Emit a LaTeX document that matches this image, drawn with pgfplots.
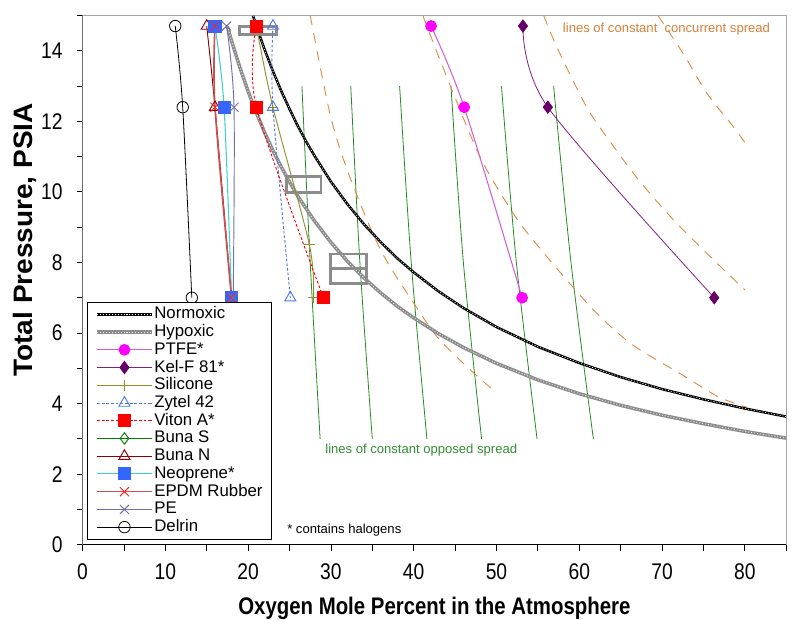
\documentclass[border=0pt]{standalone}
\usepackage{pgfplots}
\pgfplotsset{compat=1.18}
\usepackage{fontspec}
\setmainfont{Liberation Sans}
\newfontfamily\condensed{Liberation Sans}[FakeStretch=0.85]
\newfontfamily\widefont{Liberation Sans}[FakeStretch=1.05]
\definecolor{ptfeline}{RGB}{212,95,212}
\definecolor{ptfemark}{RGB}{255,0,255}
\definecolor{kelline}{RGB}{128,32,128}
\definecolor{kelmark}{RGB}{102,0,102}
\definecolor{silicone}{RGB}{143,143,47}
\definecolor{zytel}{RGB}{74,122,232}
\definecolor{bunas}{RGB}{0,128,0}
\definecolor{bunan}{RGB}{139,0,0}
\definecolor{neoline}{RGB}{64,208,208}
\definecolor{neomark}{RGB}{51,102,255}
\definecolor{epdmline}{RGB}{205,80,80}
\definecolor{epdmmark}{RGB}{240,40,40}
\definecolor{peline}{RGB}{112,112,168}
\definecolor{hypo}{RGB}{140,140,140}
\definecolor{opposed}{RGB}{34,139,34}
\definecolor{concur}{RGB}{224,140,70}
\definecolor{concurtext}{RGB}{214,128,58}
\definecolor{opposedtext}{RGB}{51,140,51}
\begin{document}
\begin{tikzpicture}
\useasboundingbox (-61.9pt,-56.25pt) rectangle (533.7pt,408.6pt);
\begin{axis}[
  at={(0pt,0pt)}, anchor=south west,
  scale only axis, width=527.9pt, height=397pt,
  xmin=0, xmax=85, ymin=0, ymax=15,
  xtick={0,10,...,80}, minor xtick={5,15,...,85},
  ytick={0,2,...,14}, minor ytick={1,3,...,15},
  tick align=outside, tick pos=left,
  major tick length=4.5pt, minor tick length=4.5pt,
  every tick/.style={black, line width=0.6pt},
  axis line style={draw=gray!70, line width=0.8pt},
  /pgf/number format/assume math mode=true,
  ticklabel style={font=\condensed\fontsize{17}{17}\selectfont},
  xticklabel style={anchor=north, yshift=-6pt},
  yticklabel style={anchor=east, xshift=-7pt},
  xlabel={Oxygen Mole Percent in the Atmosphere},
  ylabel={Total Pressure, PSIA},
  xlabel style={font=\condensed\bfseries\fontsize{18}{18}\selectfont, at={(axis description cs:0.5,-0.12)}, anchor=center},
  ylabel style={font=\widefont\bfseries\fontsize{20}{20}\selectfont, at={(axis description cs:-0.0817,0.576)}, anchor=center},
  legend cell align=left,
  legend style={at={(rel axis cs:0.0064,0.0094)}, anchor=south west, draw=black, line width=0.6pt,
    font=\fontsize{12.6}{13}\selectfont, row sep=0pt, inner xsep=6pt, inner ysep=2.5pt,
    nodes={inner sep=0.6pt, text height=9.4pt, text depth=2.7pt}},
  legend image code/.code={\draw[mark repeat=2, mark phase=2] plot coordinates {(0cm,0cm) (0.72cm,0cm) (1.44cm,0cm)};},
]
% lines of constant opposed spread
\addplot[forget plot, opposed, line width=0.6pt, smooth] coordinates {(26.5,13) (27.5,8) (28.7,3)};
\addplot[forget plot, opposed, line width=0.6pt, smooth] coordinates {(32.4,13) (33.5,8) (35.0,3)};
\addplot[forget plot, opposed, line width=0.6pt, smooth] coordinates {(38.3,13) (39.7,8) (41.6,3)};
\addplot[forget plot, opposed, line width=0.6pt, smooth] coordinates {(44.5,13) (46.0,8) (48.2,3)};
\addplot[forget plot, opposed, line width=0.6pt, smooth] coordinates {(50.6,13) (52.4,8) (54.9,3)};
\addplot[forget plot, opposed, line width=0.6pt, smooth] coordinates {(56.9,13) (59.0,8) (61.7,3)};
% lines of constant concurrent spread
\addplot[forget plot, concur, line width=0.7pt, dash pattern=on 7.5pt off 6pt, smooth] coordinates {(27.5,15.0) (29.9,12.2) (32.0,10.6) (35.1,8.8) (37.1,7.9) (40.0,6.85) (42.8,5.9) (46.4,5.05) (50.0,4.3)};
\addplot[forget plot, concur, line width=0.7pt, dash pattern=on 7.5pt off 6pt, smooth] coordinates {(41.1,15.0) (43.5,13.55) (48.0,11.0) (52.0,9.4) (54.4,8.64) (58.5,7.5) (62.1,6.56) (66.4,5.67) (72.6,4.79) (76.8,4.19) (80.2,3.9)};
\addplot[forget plot, concur, line width=0.7pt, dash pattern=on 7.5pt off 6pt, smooth] coordinates {(55.7,15.0) (57.3,14.1) (60.9,12.4) (64.1,11.3) (67.3,10.3) (71.4,9.2) (75.4,8.26) (80.0,7.22)};
\addplot[forget plot, concur, line width=0.7pt, dash pattern=on 7.5pt off 6pt, smooth] coordinates {(69.5,15.0) (72.6,13.9) (75.4,12.8) (78.6,11.85) (80.0,11.4)};
% Normoxic
\addplot[black, line width=1.9pt, no marks, postaction={draw=white, line width=0.5pt, dash pattern=on 0.8pt off 1.4pt}] coordinates {
(20.6,14.99) (21,14.70) (22,14.03) (23,13.42) (24,12.86) (25,12.35) (26,11.87) (27,11.43) (28,11.03) (30,10.29) (32,9.65) (34,9.08) (36,8.58) (38,8.12) (40,7.72) (43,7.18) (46,6.71) (50,6.17) (55,5.61) (60,5.15) (65,4.75) (70,4.41) (75,4.12) (80,3.86) (85,3.63)};
\addlegendentry{Normoxic}
% Hypoxic
\addplot[hypo, line width=2.6pt, no marks, postaction={draw=white!80!hypo, line width=0.6pt, dash pattern=on 0.8pt off 1.4pt}] coordinates {
(17.5,14.69) (18,14.28) (19,13.53) (20,12.85) (21,12.24) (22,11.68) (23,11.17) (24,10.71) (25,10.28) (26,9.88) (28,9.18) (30,8.57) (32,8.03) (34,7.56) (36,7.14) (38,6.76) (40,6.43) (43,5.98) (46,5.59) (50,5.14) (55,4.67) (60,4.28) (65,3.95) (70,3.67) (75,3.43) (80,3.21) (85,3.02)};
\addlegendentry{Hypoxic}
% boxes
\addplot[forget plot, hypo, line width=2.2pt] coordinates {(19.0,14.47) (23.4,14.47) (23.4,14.68) (19.0,14.68)} -- cycle;
\addplot[forget plot, hypo, line width=2.2pt] coordinates {(24.6,9.98) (28.8,9.98) (28.8,10.43) (24.6,10.43)} -- cycle;
\addplot[forget plot, hypo, line width=2.2pt] coordinates {(30.0,7.41) (34.3,7.41) (34.3,8.24) (30.0,8.24)} -- cycle;
\addplot[forget plot, hypo, line width=2.2pt] coordinates {(30.0,7.84) (34.3,7.84)};
% PTFE
\addplot[ptfeline, line width=0.8pt, smooth, mark=*, mark size=4pt, mark options={draw=ptfemark, fill=ptfemark}] coordinates {(42.1,14.7) (46.1,12.4) (53.1,7.0)};
\addlegendentry{PTFE*}
% Kel-F
\addplot[kelline, line width=0.6pt, smooth, mark=diamond*, mark size=4.6pt, mark options={draw=kelmark, fill=kelmark}] coordinates {(53.2,14.7) (56.2,12.4) (76.3,7.0)};
\addlegendentry{Kel-F 81*}
% Silicone
\addplot[silicone, line width=0.7pt, smooth, mark=+, mark size=4pt] coordinates {(21.0,14.7) (23.0,12.4) (27.4,8.5) (27.9,7.0)};
\addlegendentry{Silicone}
% Zytel 42
\addplot[zytel, line width=0.7pt, dash pattern=on 2pt off 1.5pt, smooth, mark=triangle, mark size=4.8pt, mark options={solid, fill=white}] coordinates {(23.0,14.7) (23.0,12.4) (25.1,7.0)};
\addlegendentry{Zytel 42}
% Viton A
\addplot[red, line width=0.7pt, dash pattern=on 2pt off 1.5pt, smooth, mark=square*, mark size=4.5pt, mark options={solid, fill=red}] coordinates {(21.0,14.7) (21.0,12.4) (29.1,7.0)};
\addlegendentry{Viton A*}
% Buna S (not visible in plot)
\addlegendimage{bunas, line width=0.7pt, mark=diamond, mark size=4.3pt, mark options={fill=white}}
\addlegendentry{Buna S}
% Buna N
\addplot[bunan, line width=0.7pt, smooth, mark=triangle, mark size=4.8pt] coordinates {(15.0,14.7) (16.0,12.4) (18.0,7.0)};
\addlegendentry{Buna N}
% Neoprene
\addplot[neoline, line width=0.8pt, smooth, mark=square*, mark size=4.5pt, mark options={draw=neomark, fill=neomark}] coordinates {(16.0,14.7) (17.1,12.4) (18.0,7.0)};
\addlegendentry{Neoprene*}
% EPDM
\addplot[epdmline, line width=1.2pt, smooth, mark=x, mark size=4.8pt, mark options={draw=epdmmark, line width=0.7pt}] coordinates {(16.0,14.7) (16.0,12.4) (18.0,7.0)};
\addlegendentry{EPDM Rubber}
% PE
\addplot[peline, line width=0.7pt, smooth, mark=x, mark size=4.8pt] coordinates {(17.4,14.7) (18.3,12.4) (18.2,7.0)};
\addlegendentry{PE}
% Delrin
\addplot[black, line width=0.6pt, smooth, mark=o, mark size=4.3pt, mark options={fill=white}] coordinates {(11.2,14.7) (12.1,12.4) (13.2,7.0)};
\addlegendentry{Delrin}
% annotations
\node[anchor=west, text=concurtext, font=\fontsize{9.8}{10}\selectfont, inner sep=0pt] at (axis cs:58.0,14.62) {lines of constant\ \ concurrent spread};
\node[anchor=west, text=opposedtext, font=\fontsize{9.8}{10}\selectfont, inner sep=0pt] at (axis cs:29.3,2.69) {lines of constant opposed spread};
\node[anchor=west, text=black, font=\fontsize{9.8}{10}\selectfont, inner sep=0pt] at (axis cs:24.7,0.40) {* contains halogens};
\draw[black, line width=0.8pt] (rel axis cs:0,1) -- (rel axis cs:0,0) -- (rel axis cs:1,0);
\end{axis}
\end{tikzpicture}
\end{document}
